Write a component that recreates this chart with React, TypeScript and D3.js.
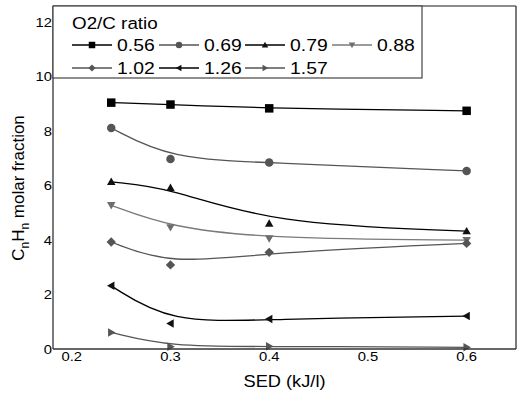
import React from "react";
import * as d3 from "d3";

const sedValues = [0.24, 0.3, 0.4, 0.6];
const seriesNames = ["0.56", "0.69", "0.79", "0.88", "1.02", "1.26", "1.57"];
const s056 = [9.05, 8.98, 8.84, 8.75];
const s069 = [8.12, 6.98, 6.85, 6.54];
const s079 = [6.14, 5.92, 4.61, 4.33];
const s088 = [5.28, 4.47, 4.06, 4.0];
const s102 = [3.93, 3.09, 3.55, 3.88];
const s126 = [2.32, 0.94, 1.1, 1.21];
const s157 = [0.61, 0.08, 0.1, 0.06];
const xTicks = [0.2, 0.3, 0.4, 0.5, 0.6];
const yTicks = [0, 2, 4, 6, 8, 10, 12];

const seriesValues = [s056, s069, s079, s088, s102, s126, s157];
const markers = ["square", "circle", "up", "down", "diamond", "left", "right"];
const lineColors = ["#000", "#555", "#000", "#7a7a7a", "#555", "#000", "#555"];
const markColors = ["#000", "#555", "#111", "#6e6e6e", "#555", "#111", "#555"];

const W = 517;
const H = 395;
const L = 53, R = 516, T = 6, B = 349;
const FONT = "'Liberation Sans', Arial, sans-serif";
const SX = 1.14;

const x = d3.scaleLinear().domain([0.181, 0.65]).range([L, R]);
const y = d3.scaleLinear().domain([0, 12.6]).range([B, T]);

function markerPath(kind: string, s: number): string {
  const h = s / 2;
  switch (kind) {
    case "square":
      return `M${-h},${-h}H${h}V${h}H${-h}Z`;
    case "up":
      return `M0,${-h}L${h},${h * 0.75}L${-h},${h * 0.75}Z`;
    case "down":
      return `M0,${h}L${h},${-h * 0.75}L${-h},${-h * 0.75}Z`;
    case "left":
      return `M${-h},0L${h * 0.75},${-h}L${h * 0.75},${h}Z`;
    case "right":
      return `M${h},0L${-h * 0.75},${-h}L${-h * 0.75},${h}Z`;
    case "diamond":
      return `M0,${-h * 1.1}L${h * 1.1},0L0,${h * 1.1}L${-h * 1.1},0Z`;
    default:
      return "";
  }
}

function Marker({ kind, cx, cy, s, color }: { kind: string; cx: number; cy: number; s: number; color: string }) {
  if (kind === "circle") return <circle cx={cx} cy={cy} r={s / 2} fill={color} />;
  return <path d={markerPath(kind, s)} transform={`translate(${cx},${cy})`} fill={color} />;
}

function T2({ x0, y0, size, anchor, children, baseline }: any) {
  return (
    <text
      transform={`translate(${x0},${y0}) scale(${SX},1)`}
      fontSize={size}
      fontFamily={FONT}
      textAnchor={anchor || "start"}
      dominantBaseline={baseline || "auto"}
      fill="#000"
    >
      {children}
    </text>
  );
}

export default function App() {
  const line = d3
    .line<[number, number]>()
    .x((d) => x(d[0]))
    .y((d) => y(d[1]))
    .curve(d3.curveBasis);

  const legendCols = [72, 159, 245, 332];
  const legendRows = [45, 68];

  return (
    <svg width={W} height={H} style={{ position: "absolute", left: 0, top: 0 }}>
      <rect x={0} y={0} width={W} height={H} fill="#fff" />
      {seriesValues.map((vals, i) => (
        <path
          key={"l" + i}
          d={line(vals.map((v, j) => [sedValues[j], v]) as [number, number][]) || ""}
          fill="none"
          stroke={lineColors[i]}
          strokeWidth={1.3}
        />
      ))}
      {seriesValues.map((vals, i) =>
        vals.map((v, j) => (
          <Marker key={`m${i}-${j}`} kind={markers[i]} cx={x(sedValues[j])} cy={y(v)} s={8.5} color={markColors[i]} />
        ))
      )}
      {/* frame */}
      <line x1={L} x2={R} y1={T} y2={T} stroke="#666" strokeWidth={1.3} />
      <line x1={R} x2={R} y1={T} y2={B} stroke="#333" strokeWidth={1.3} />
      <line x1={L} x2={R} y1={B} y2={B} stroke="#333" strokeWidth={1.3} />
      <line x1={L} x2={L} y1={T} y2={B} stroke="#333" strokeWidth={1.3} />
      {/* ticks */}
      {yTicks.map((t) => (
        <T2 key={"y" + t} x0={52} y0={y(t) + 4.5} size={13} anchor="end">
          {t}
        </T2>
      ))}
      {xTicks.map((t) => (
        <T2 key={"x" + t} x0={x(t)} y0={361} size={13} anchor="middle">
          {d3.format(".1f")(t)}
        </T2>
      ))}
      {/* axis titles */}
      <T2 x0={(L + R) / 2} y0={387} size={16} anchor="middle">
        SED (kJ/l)
      </T2>
      <text transform={`translate(24,188) rotate(-90)`} fontSize={17} fontFamily={FONT} textAnchor="middle" fill="#000">
        C<tspan fontSize={12} dy={5}>n</tspan>
        <tspan dy={-5}>H</tspan>
        <tspan fontSize={12} dy={5}>n</tspan>
        <tspan dy={-5}> molar fraction</tspan>
      </text>
      {/* legend */}
      <rect x={L} y={T} width={422 - L} height={78 - T} fill="#fff" stroke="#444" strokeWidth={1.2} />
      <T2 x0={72} y0={29} size={16.5}>
        O2/C ratio
      </T2>
      {seriesNames.map((name, i) => {
        const col = i < 4 ? i : i - 4;
        const row = i < 4 ? 0 : 1;
        const lx = legendCols[col];
        const ly = legendRows[row];
        return (
          <g key={"lg" + i}>
            <line x1={lx} x2={lx + 40} y1={ly} y2={ly} stroke={lineColors[i]} strokeWidth={1.3} />
            <Marker kind={markers[i]} cx={lx + 20} cy={ly} s={6.5} color={markColors[i]} />
            <T2 x0={lx + 45} y0={ly + 6} size={17}>
              {name}
            </T2>
          </g>
        );
      })}
    </svg>
  );
}
